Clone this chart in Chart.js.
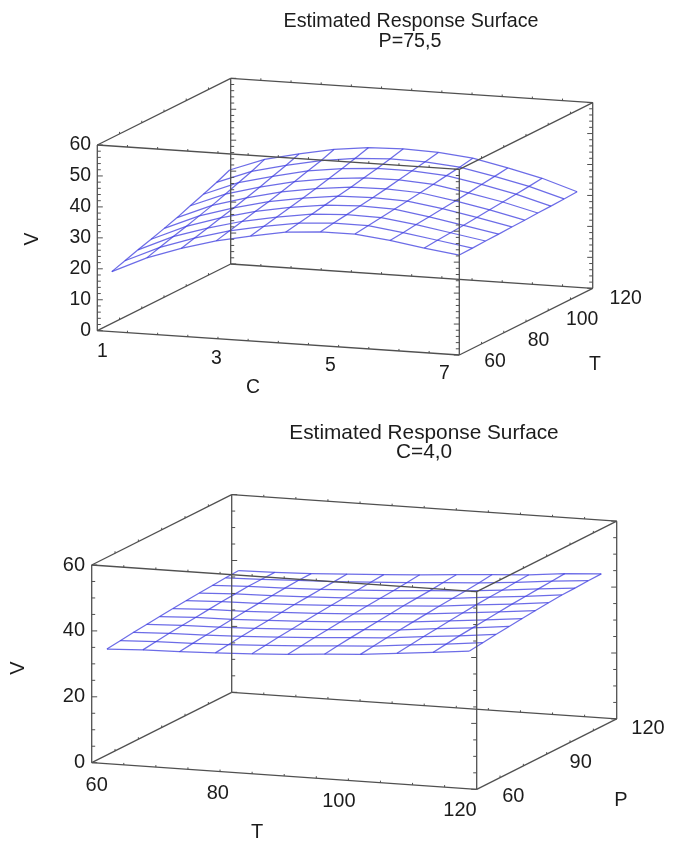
<!DOCTYPE html>
<html>
<head>
<meta charset="utf-8">
<title>Estimated Response Surface</title>
<script src="https://cdn.jsdelivr.net/npm/chart.js@4"></script>
<style>
  html, body { margin: 0; padding: 0; background: #fff; }
  #page { position: relative; width: 674px; height: 843px; overflow: hidden; }
  canvas { position: absolute; left: 0; filter: blur(0.4px); }
  #topChart { top: 0; }
  #bottomChart { top: 410px; }
</style>
</head>
<body>
<div id="page">
  <canvas id="topChart" width="674" height="410"></canvas>
  <canvas id="bottomChart" width="674" height="433"></canvas>
</div>
<script>
// Top surface: V over C and T, at P=75,5
const topC = [1.24, 1.82, 2.39, 2.97, 3.54, 4.12, 4.7, 5.27, 5.85, 6.42, 7];
const topT = [60, 65.9, 71.8, 77.7, 83.6, 89.4, 95.3, 101.2, 107.1, 113];
const topV = [
  [19.4, 24.6, 28.4, 31.6, 33.9, 35.9, 36.8, 36.8, 35.5, 33.8, 32.3],
  [20.8, 25.9, 29.6, 32.7, 34.9, 36.7, 37.5, 37.4, 35.9, 34.2, 32.4],
  [22.2, 27.2, 30.7, 33.7, 35.8, 37.5, 38.1, 37.9, 36.4, 34.5, 32.6],
  [23.5, 28.4, 31.9, 34.8, 36.8, 38.3, 38.8, 38.5, 36.8, 34.8, 32.7],
  [24.9, 29.7, 33.0, 35.8, 37.7, 39.1, 39.4, 39.0, 37.3, 35.2, 32.9],
  [26.3, 31.0, 34.2, 36.9, 38.7, 39.9, 40.1, 39.6, 37.7, 35.6, 33.0],
  [28.0, 32.5, 35.5, 38.1, 39.8, 40.8, 40.9, 40.2, 38.2, 36.0, 33.2],
  [29.6, 34.1, 36.9, 39.4, 40.9, 41.7, 41.7, 40.9, 38.8, 36.4, 33.3],
  [31.3, 35.6, 38.3, 40.6, 42.1, 42.7, 42.5, 41.5, 39.3, 36.8, 33.5],
  [33.2, 37.4, 39.9, 42.1, 43.4, 43.8, 43.4, 42.3, 39.9, 37.3, 33.7],
];
const topCLabels = [1, 3, 5, 7];
const topTLabels = [60, 80, 100, 120];
const topVLabels = [0, 10, 20, 30, 40, 50, 60];
const topVMinor = [2, 4, 6, 8, 12, 14, 16, 18, 22, 24, 26, 28, 32, 34, 36, 38, 42, 44, 46, 48, 52, 54, 56, 58];
const topCTicks = [1.5, 2, 2.5, 3, 3.5, 4, 4.5, 5, 5.5, 6, 6.5];
const topTTicks = [70, 80, 90, 100, 110];

// Bottom surface: V over T and P, at C=4,0
const bottomT = [61.1, 66.7, 72.4, 78, 83.7, 89.3, 95, 100.6, 106.3, 111.9, 117.6];
const bottomP = [63.5, 69.2, 74.8, 80.5, 86.1, 91.8, 97.4, 103.1, 108.7, 114.4, 120];
const bottomV = [
  [33.4, 33.9, 34.1, 34.5, 35.0, 35.6, 36.4, 37.1, 38.2, 39.2, 40.4],
  [33.9, 34.4, 34.6, 35.0, 35.5, 36.1, 36.9, 37.6, 38.7, 39.7, 40.9],
  [34.4, 34.9, 35.1, 35.5, 36.0, 36.6, 37.4, 38.1, 39.2, 40.2, 41.4],
  [34.8, 35.3, 35.5, 35.9, 36.4, 37.0, 37.8, 38.5, 39.6, 40.6, 41.8],
  [35.2, 35.7, 35.9, 36.3, 36.8, 37.4, 38.2, 38.9, 40.0, 41.0, 42.2],
  [35.6, 36.1, 36.3, 36.7, 37.2, 37.8, 38.6, 39.3, 40.4, 41.4, 42.6],
  [36.0, 36.5, 36.7, 37.1, 37.6, 38.2, 39.0, 39.7, 40.8, 41.8, 43.0],
  [36.3, 36.8, 37.0, 37.4, 37.9, 38.5, 39.3, 40.0, 41.1, 42.1, 43.3],
  [36.6, 37.1, 37.3, 37.7, 38.2, 38.8, 39.6, 40.3, 41.3, 42.4, 43.4],
  [36.9, 37.2, 37.6, 38.0, 38.6, 39.2, 40.0, 40.7, 41.6, 42.7, 43.6],
  [37.1, 37.3, 37.7, 38.3, 38.9, 39.6, 40.4, 41.2, 41.9, 43.0, 43.7],
];
const bottomTLabels = [60, 80, 100, 120];
const bottomPLabels = [60, 90, 120];
const bottomVLabels = [0, 20, 40, 60];
const bottomVMinor = [5, 10, 15, 25, 30, 35, 45, 50, 55];
const bottomTTicks = [65, 70, 75, 80, 85, 90, 95, 100, 105, 110, 115];
const bottomPTicks = [70, 80, 90, 100, 110];

// Colors and fonts
const SURFACE_COLOR = "rgba(66, 66, 224, 0.78)";
const BOX_COLOR = "#505050";
const TEXT_COLOR = "#1c1c1c";
const FONT = '"Liberation Sans", Arial, sans-serif';

// Parallel projection of one box: a and b are the floor axes, v goes straight up
const makeProjection = (box) => (a, b, v) => {
  const fa = (a - box.aRange[0]) / (box.aRange[1] - box.aRange[0]);
  const fb = (b - box.bRange[0]) / (box.bRange[1] - box.bRange[0]);
  const fv = v / box.vMax;
  return {
    x: box.origin[0] + fa * box.aVector[0] + fb * box.bVector[0],
    y: box.origin[1] + fa * box.aVector[1] + fb * box.bVector[1] - fv * box.height,
  };
};

const lineDataset = (points, color, width) => ({
  data: points,
  showLine: true,
  borderColor: color,
  borderWidth: width,
  pointRadius: 0,
  tension: 0,
  fill: false,
});

const boxDatasets = (box, project, ticks) => {
  const [a0, a1] = box.aRange;
  const [b0, b1] = box.bRange;
  const top = box.vMax;
  const sets = [];
  const edge = (p, q) => sets.push(lineDataset([p, q], BOX_COLOR, 1.3));
  const tick = (p, dx, dy) =>
    sets.push(lineDataset([p, { x: p.x + dx, y: p.y + dy }], BOX_COLOR, 1));

  [0, top].forEach((v) => {
    edge(project(a0, b0, v), project(a1, b0, v));
    edge(project(a0, b1, v), project(a1, b1, v));
    edge(project(a0, b0, v), project(a0, b1, v));
    edge(project(a1, b0, v), project(a1, b1, v));
  });
  edge(project(a0, b0, 0), project(a0, b0, top));
  edge(project(a0, b1, 0), project(a0, b1, top));
  edge(project(a1, b0, 0), project(a1, b0, top));
  edge(project(a1, b1, 0), project(a1, b1, top));

  // Ticks on the four uprights, pointing into the box
  const uprights = [
    [a0, b0, 1],
    [a0, b1, 1],
    [a1, b0, -1],
    [a1, b1, -1],
  ];
  uprights.forEach(([a, b, side]) => {
    ticks.vMajor.forEach((v) => tick(project(a, b, v), side * 5.5, 0));
    ticks.vMinor.forEach((v) => tick(project(a, b, v), side * 3.5, 0));
  });

  // Small ticks along the floor and roof edges
  [0, top].forEach((v) => {
    ticks.a.forEach((a) => {
      tick(project(a, b0, v), 0, -2);
      tick(project(a, b1, v), 0, -2);
    });
    ticks.b.forEach((b) => {
      tick(project(a0, b, v), 0, -2);
      tick(project(a1, b, v), 0, -2);
    });
  });
  return sets;
};

const surfaceDatasets = (aValues, bValues, vRows, project) => {
  const sets = [];
  bValues.forEach((b, j) => {
    sets.push(lineDataset(aValues.map((a, i) => project(a, b, vRows[j][i])), SURFACE_COLOR, 1.25));
  });
  aValues.forEach((a, i) => {
    sets.push(lineDataset(bValues.map((b, j) => project(a, b, vRows[j][i])), SURFACE_COLOR, 1.25));
  });
  return sets;
};

// Text is placed through the same scales as the marks
const textPlugin = {
  id: "panelText",
  afterDraw(chart, args, opts) {
    const { ctx, scales } = chart;
    ctx.save();
    ctx.fillStyle = TEXT_COLOR;
    ctx.textBaseline = "middle";
    opts.items.forEach((item) => {
      const px = scales.x.getPixelForValue(item.x);
      const py = scales.y.getPixelForValue(item.y);
      ctx.font = `${item.size}px ${FONT}`;
      ctx.textAlign = item.align || "center";
      ctx.save();
      ctx.translate(px, py);
      if (item.rotate) ctx.rotate(item.rotate);
      ctx.fillText(item.text, 0, 0);
      ctx.restore();
    });
    ctx.restore();
  },
};

const drawPanel = (id, top, height, datasets, items) =>
  new Chart(document.getElementById(id), {
    type: "scatter",
    data: { datasets },
    options: {
      responsive: false,
      animation: false,
      layout: { padding: 0 },
      plugins: {
        legend: { display: false },
        tooltip: { enabled: false },
        panelText: { items },
      },
      scales: {
        x: { type: "linear", display: false, min: 0, max: 674 },
        y: { type: "linear", display: false, min: top, max: top + height, reverse: true },
      },
    },
    plugins: [textPlugin],
  });

// Evenly spaced labels between two anchor spots
const labelRow = (labels, from, to, size) =>
  labels.map((text, i) => {
    const f = i / (labels.length - 1);
    return {
      text: String(text),
      x: from[0] + f * (to[0] - from[0]),
      y: from[1] + f * (to[1] - from[1]),
      size,
    };
  });

// Top panel
const topBox = {
  aRange: [1, 7],
  bRange: [60, 120],
  vMax: 60,
  origin: [97.3, 330.7],
  aVector: [362, 24.3],
  bVector: [133.4, -66.7],
  height: 185.7,
};
const topProject = makeProjection(topBox);
const topSets = boxDatasets(topBox, topProject, {
  vMajor: topVLabels,
  vMinor: topVMinor,
  a: topCTicks,
  b: topTTicks,
}).concat(surfaceDatasets(topC, topT, topV, topProject));
const TOP_SIZE = 19.4;
const topItems = [
  { text: "Estimated Response Surface", x: 411, y: 22, size: 19.7 },
  { text: "P=75,5", x: 410, y: 41.5, size: 19.7 },
  { text: "V", x: 33, y: 239, size: TOP_SIZE, rotate: -Math.PI / 2 },
  { text: "C", x: 253, y: 388, size: TOP_SIZE },
  { text: "T", x: 595, y: 365, size: TOP_SIZE },
  ...topVLabels.map((v) => ({
    text: String(v),
    x: 91,
    y: topProject(1, 60, v).y,
    size: TOP_SIZE,
    align: "right",
  })),
  ...labelRow(topCLabels, [102.3, 351.7], [444.3, 373.3], TOP_SIZE),
  ...labelRow(topTLabels, [495, 361.7], [625.7, 299], TOP_SIZE),
];
drawPanel("topChart", 0, 410, topSets, topItems);

// Bottom panel
const bottomBox = {
  aRange: [60, 120],
  bRange: [60, 120],
  vMax: 60,
  origin: [91.7, 762.7],
  aVector: [385, 26.6],
  bVector: [140, -70.4],
  height: 197.7,
};
const bottomProject = makeProjection(bottomBox);
const bottomSets = boxDatasets(bottomBox, bottomProject, {
  vMajor: bottomVLabels,
  vMinor: bottomVMinor,
  a: bottomTTicks,
  b: bottomPTicks,
}).concat(surfaceDatasets(bottomT, bottomP, bottomV, bottomProject));
const BOTTOM_SIZE = 20;
const bottomItems = [
  { text: "Estimated Response Surface", x: 424, y: 433, size: 20.8 },
  { text: "C=4,0", x: 424, y: 452, size: 20.8 },
  { text: "V", x: 18, y: 668, size: BOTTOM_SIZE, rotate: -Math.PI / 2 },
  { text: "T", x: 257, y: 832, size: BOTTOM_SIZE },
  { text: "P", x: 621, y: 800, size: BOTTOM_SIZE },
  ...bottomVLabels.map((v) => ({
    text: String(v),
    x: 85,
    y: bottomProject(60, 60, v).y,
    size: BOTTOM_SIZE,
    align: "right",
  })),
  ...labelRow(bottomTLabels, [96.7, 785], [460, 810], BOTTOM_SIZE),
  ...labelRow(bottomPLabels, [513.3, 796], [648, 728], BOTTOM_SIZE),
];
drawPanel("bottomChart", 410, 433, bottomSets, bottomItems);
</script>
</body>
</html>
